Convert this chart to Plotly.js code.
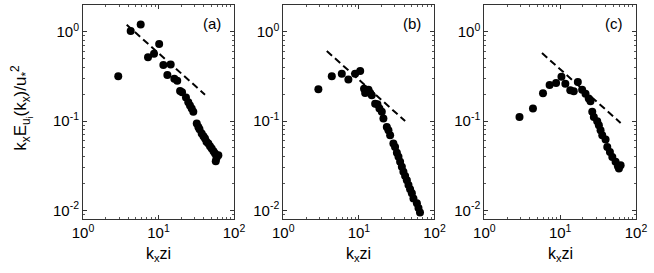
<!DOCTYPE html>
<html>
<head>
<meta charset="utf-8">
<script src="https://cdn.plot.ly/plotly-3.0.1.min.js"></script>
<style>html,body{margin:0;padding:0;background:#fff;}#chart{width:654px;height:273px;}</style>
</head>
<body>
<div id="chart"></div>
<script>
// Panel (a)
const kxA = [2.93,4.28,5.81,7.26,8.72,10.2,11.6,13.1,14.5,16.2,17.7,19.3,20.5,23.1,24.8,26.1,27.5,28.9,32.1,33.7,34.9,37.3,39.4,41.3,43.2,45.7,48.1,50.6,53.5,56.0,62.0,58.6,57.3];
const eA  = [0.318,1.02,1.21,0.518,0.569,0.73,0.425,0.328,0.432,0.299,0.284,0.217,0.21,0.184,0.163,0.150,0.138,0.127,0.094,0.086,0.081,0.0726,0.0677,0.0638,0.0588,0.0561,0.0524,0.0493,0.046,0.0434,0.0415,0.0385,0.0356];
// Panel (b)
const kxB = [2.91,4.38,5.94,7.26,8.91,10.4,11.7,12.1,13.4,14.1,14.8,16.4,17.6,18.7,20.1,21.1,23.4,24.6,25.9,28.6,30.1,31.8,33.4,35.1,37.0,38.8,40.9,43.1,45.3,47.6,50.2,52.7,58.5,61.4,64.3];
const eB  = [0.227,0.318,0.340,0.292,0.340,0.364,0.231,0.206,0.225,0.206,0.195,0.157,0.154,0.138,0.127,0.107,0.086,0.079,0.0695,0.0561,0.0514,0.0441,0.0398,0.035,0.0308,0.027,0.0242,0.0218,0.0192,0.0172,0.0155,0.0136,0.012,0.0106,0.00946];
// Panel (c)
const kxC = [2.91,4.38,5.94,7.26,8.83,10.4,11.7,13.6,15.1,17.1,19.5,21.6,23.8,25.1,26.5,27.8,30.8,32.4,34.1,35.9,39.7,41.8,45.3,48.7,53.8,57.8,62.7,59.6];
const eC  = [0.111,0.138,0.205,0.254,0.267,0.315,0.263,0.221,0.216,0.274,0.225,0.203,0.179,0.167,0.127,0.111,0.0998,0.090,0.079,0.0695,0.0622,0.0514,0.0452,0.0397,0.035,0.0313,0.0321,0.0295];
// Reference dashed lines (endpoints)
const lineAx = [3.79,41.3], lineAy = [1.20,0.198];
const lineBx = [3.76,40.9], lineBy = [0.61,0.100];
const lineCx = [5.76,62.7], lineCy = [0.578,0.0955];

const panelLabels = ['(a)','(b)','(c)'];
const xTickVals = [1,10,100];
const xTickText = ['10<sup>0</sup>','10<sup>1</sup>','10<sup>2</sup>'];
const yTickVals = [0.01,0.1,1];
const yTickText = ['10<sup>-2</sup>','10<sup>-1</sup>','10<sup>0</sup>'];
const xTitle = 'k<sub>x</sub>zi';
const yTitle = 'k<sub>x</sub>E<sub>u<sub>i</sub></sub>(k<sub>x</sub>)/u<sub>*</sub><sup>2</sup>';

const minorX = [], minorY = [];
for (let d = 0; d < 2; d++) for (let m = 2; m <= 9; m++) minorX.push(m * Math.pow(10, d));
for (let d = -3; d < 1; d++) for (let m = 2; m <= 9; m++) { const v = m * Math.pow(10, d); if (v >= 0.008 && v <= 2) minorY.push(v); }

const font = {family: 'Liberation Sans, Arial, sans-serif', size: 15, color: '#000'};
const sets = [[kxA,eA,lineAx,lineAy],[kxB,eB,lineBx,lineBy],[kxC,eC,lineCx,lineCy]];
const traces = [];
sets.forEach((s, i) => {
  const xa = i === 0 ? 'x' : 'x' + (i + 1), ya = i === 0 ? 'y' : 'y' + (i + 1);
  traces.push({x: s[0], y: s[1], xaxis: xa, yaxis: ya, mode: 'markers', type: 'scatter',
    marker: {color: '#000', size: 8, line: {width: 0}}, hoverinfo: 'skip'});
  traces.push({x: s[2], y: s[3], xaxis: xa, yaxis: ya, mode: 'lines', type: 'scatter',
    line: {color: '#000', width: 2, dash: '7px,4px'}, hoverinfo: 'skip'});
});

const domains = [[0, 0.2731], [0.3622, 0.6356], [0.7257, 1]];
const layout = {
  width: 654, height: 273, showlegend: false,
  paper_bgcolor: '#fff', plot_bgcolor: '#fff',
  margin: {l: 83, r: 18, t: 5, b: 54},
  font: font,
  annotations: []
};
domains.forEach((d, i) => {
  const sx = i === 0 ? '' : String(i + 1);
  layout['xaxis' + sx] = {
    type: 'log', domain: d, range: [0, 2], anchor: 'y' + sx,
    tickvals: xTickVals, ticktext: xTickText, ticks: 'inside', ticklen: 4,
    showline: true, mirror: 'ticks', linecolor: '#333', linewidth: 1, tickcolor: '#333',
    showgrid: false, zeroline: false, tickfont: font,
    minor: {tickvals: minorX, ticks: 'inside', ticklen: 2, tickcolor: '#555', showgrid: false}
  };
  layout['yaxis' + sx] = {
    type: 'log', domain: [0, 1], range: [Math.log10(0.008), Math.log10(2)], anchor: 'x' + sx,
    tickvals: yTickVals, ticktext: yTickText, ticks: 'inside', ticklen: 4,
    showline: true, mirror: 'ticks', linecolor: '#333', linewidth: 1, tickcolor: '#333',
    showgrid: false, zeroline: false, tickfont: font,
    minor: {tickvals: minorY, ticks: 'inside', ticklen: 2, tickcolor: '#555', showgrid: false}
  };
  layout.annotations.push({text: panelLabels[i], xref: 'paper', yref: 'paper',
    x: d[1] - 0.04, y: 0.915, xanchor: 'center', yanchor: 'middle', showarrow: false, font: font});
  layout.annotations.push({text: xTitle, xref: 'paper', yref: 'paper',
    x: (d[0] + d[1]) / 2, y: -0.165, xanchor: 'center', yanchor: 'middle', showarrow: false, font: {family: font.family, size: 16, color: '#000'}});
});
layout.annotations.push({text: yTitle, xref: 'paper', yref: 'paper', textangle: -90,
  x: -0.112, y: 0.52, xanchor: 'center', yanchor: 'middle', showarrow: false, font: {family: font.family, size: 17, color: '#000'}});

Plotly.newPlot('chart', traces, layout, {displayModeBar: false, staticPlot: true});
</script>
</body>
</html>
